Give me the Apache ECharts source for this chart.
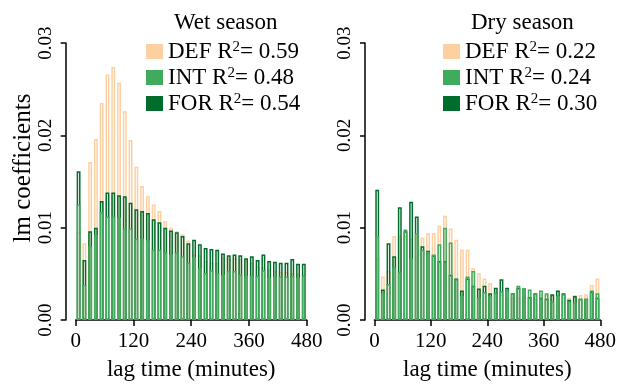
<!DOCTYPE html>
<html><head><meta charset="utf-8">
<script src="https://cdn.jsdelivr.net/npm/echarts@6/dist/echarts.min.js"></script>
<style>html,body{margin:0;padding:0;background:#fff}#c{width:619px;height:386px}</style>
</head><body><div id="c"></div>
<script>
// lag bins (minutes, bin start) — 40 bins of 12 min
const lagBins = [0,12,24,36,48,60,72,84,96,108,120,132,144,156,168,180,192,204,216,228,
                 240,252,264,276,288,300,312,324,336,348,360,372,384,396,408,420,432,444,456,468];
const xTicks = [0,120,240,360,480];
const yTicks = [0.00,0.01,0.02,0.03];

const wetDEF = [0.0095,0.0083,0.0171,0.0196,0.0235,0.0266,0.0274,0.0257,0.0226,0.0195,0.0166,0.0145,0.0134,0.0125,0.0118,0.0107,0.0100,0.0096,0.0093,0.0086,
                0.0071,0.0070,0.0064,0.0062,0.0062,0.0068,0.0067,0.0067,0.0066,0.0065,0.0062,0.0058,0.0057,0.0055,0.0053,0.0052,0.0052,0.0051,0.0050,0.0049];
const wetINT = [0.0125,0.0038,0.0080,0.0092,0.0117,0.0112,0.0112,0.0111,0.0099,0.0099,0.0088,0.0088,0.0087,0.0076,0.0076,0.0073,0.0071,0.0073,0.0069,0.0062,
                0.0068,0.0056,0.0051,0.0054,0.0051,0.0049,0.0053,0.0053,0.0049,0.0048,0.0048,0.0048,0.0054,0.0046,0.0047,0.0047,0.0047,0.0048,0.0046,0.0048];
const wetFOR = [0.0161,0.0065,0.0096,0.0100,0.0129,0.0138,0.0138,0.0135,0.0134,0.0127,0.0120,0.0118,0.0116,0.0109,0.0106,0.0100,0.0097,0.0095,0.0091,0.0083,
                0.0087,0.0082,0.0078,0.0077,0.0076,0.0072,0.0070,0.0071,0.0070,0.0067,0.0069,0.0065,0.0071,0.0064,0.0063,0.0062,0.0062,0.0066,0.0061,0.0061];

const dryDEF = [0.0067,0.0047,0.0053,0.0091,0.0091,0.0091,0.0088,0.0091,0.0089,0.0094,0.0094,0.0102,0.0113,0.0099,0.0087,0.0076,0.0076,0.0056,0.0051,0.0045,
                0.0040,0.0031,0.0028,0.0024,0.0024,0.0024,0.0025,0.0024,0.0023,0.0028,0.0028,0.0027,0.0027,0.0025,0.0024,0.0027,0.0027,0.0028,0.0038,0.0045];
const dryINT = [0.0091,0.0029,0.0039,0.0057,0.0052,0.0098,0.0067,0.0094,0.0076,0.0074,0.0071,0.0082,0.0100,0.0084,0.0044,0.0026,0.0047,0.0053,0.0024,0.0030,
                0.0026,0.0029,0.0031,0.0032,0.0029,0.0037,0.0034,0.0033,0.0029,0.0032,0.0029,0.0020,0.0026,0.0028,0.0020,0.0019,0.0023,0.0023,0.0032,0.0029];
const dryFOR = [0.0141,0.0033,0.0083,0.0069,0.0122,0.0096,0.0128,0.0112,0.0080,0.0075,0.0070,0.0064,0.0064,0.0049,0.0045,0.0032,0.0045,0.0037,0.0034,0.0037,
                0.0029,0.0035,0.0044,0.0035,0.0029,0.0035,0.0034,0.0025,0.0029,0.0024,0.0023,0.0028,0.0032,0.0029,0.0022,0.0026,0.0023,0.0023,0.0031,0.0024];

const panelTitles = ['Wet season','Dry season'];
const r2 = [{DEF:'0.59',INT:'0.48',FOR:'0.54'},{DEF:'0.22',INT:'0.24',FOR:'0.30'}];
const colors = {DEF:'#FDD0A2', INT:'#41AB5D', FOR:'#006D2C'};
const panelData = [{DEF:wetDEF,INT:wetINT,FOR:wetFOR},{DEF:dryDEF,INT:dryINT,FOR:dryFOR}];

const FONT = 'Liberation Serif';
const grids = [{left:75.7, top:43, width:231, height:277.5},{left:374.4, top:43, width:228.4, height:277.5}];
const yOffsets = [10, 9.4];
const legendLeft = [146, 443];
const titleLeft = [169, 466];

const xAxes = [], yAxes = [], series = [], legends = [], titles = [];
grids.forEach((g,p) => {
  xAxes.push({type:'category', gridIndex:p, data:lagBins, boundaryGap:true, position:'bottom',
    axisLine:{show:false, onZero:false}, axisTick:{show:false}, axisLabel:{show:false}, splitLine:{show:false}});
  xAxes.push({type:'value', gridIndex:p, min:0, max:480, interval:120, position:'bottom',
    axisLine:{show:true, onZero:false, lineStyle:{color:'#000', width:1.5}},
    axisTick:{show:true, length:6, lineStyle:{color:'#000', width:1.5}},
    axisLabel:{show:true, color:'#000', fontSize:21, fontFamily:FONT, margin:11,
      formatter: v => xTicks.includes(v) ? String(v) : ''},
    splitLine:{show:false},
    name:'lag time (minutes)', nameLocation:'middle', nameGap:38,
    nameTextStyle:{color:'#000', fontSize:23, fontFamily:FONT}});
  yAxes.push({type:'value', gridIndex:p, min:0, max:0.03, interval:0.01, offset:yOffsets[p], position:'left',
    axisLine:{show:true, onZero:false, lineStyle:{color:'#000', width:1.5}},
    axisTick:{show:true, length:5, lineStyle:{color:'#000', width:1.5}},
    axisLabel:{show:true, rotate:90, color:'#000', fontSize:19, fontFamily:FONT, margin:10,
      formatter: v => { const t = yTicks.find(k => Math.abs(k-v) < 1e-9); return t === undefined ? '' : t.toFixed(2); }},
    splitLine:{show:false}});
  const names = {};
  ['DEF','INT','FOR'].forEach(k => { names[k] = k + ' R2= ' + r2[p][k]; });
  ['DEF','FOR','INT'].forEach(k => {
    series.push({type:'bar', name:names[k], xAxisIndex:p*2, yAxisIndex:p, data:panelData[p][k],
      barWidth:3.9, barGap:'-100%', silent:true, animation:false,
      itemStyle:{color:'rgba(255,255,255,0)', borderColor:colors[k], borderWidth:1.5}});
  });
  legends.push({orient:'vertical', left:legendLeft[p], top:40, padding:0, itemWidth:17, itemHeight:15, itemGap:3,
    selectedMode:false, icon:'rect',
    data:['DEF','INT','FOR'].map(k => ({name:names[k], itemStyle:{color:colors[k], borderWidth:0}})),
    formatter: n => { const m = n.split(' R2= '); return '{t|' + m[0] + ' R}{s|2}{t|= ' + m[1] + '}'; },
    textStyle:{color:'#000', fontSize:23, fontFamily:FONT,
      rich:{t:{fontSize:23, fontFamily:FONT, color:'#000'}, s:{fontSize:15, fontFamily:FONT, color:'#000', verticalAlign:'top', padding:[0,0,6,0]}}}});
  titles.push({text:panelTitles[p], left:titleLeft[p], top:6,
    textStyle:{color:'#000', fontSize:23, fontWeight:'normal', fontFamily:FONT}});
});

const chart = echarts.init(document.getElementById('c'), null, {renderer:'canvas'});
chart.setOption({
  animation:false,
  backgroundColor:'#fff',
  title:titles,
  legend:legends,
  grid:grids,
  xAxis:xAxes,
  yAxis:yAxes,
  series:series,
  graphic:[{type:'text', x:23, y:168, rotation:Math.PI/2,
    style:{text:'lm coefficients', fontSize:25, fontFamily:FONT, fill:'#000', align:'center', verticalAlign:'middle'}}]
});
</script></body></html>
